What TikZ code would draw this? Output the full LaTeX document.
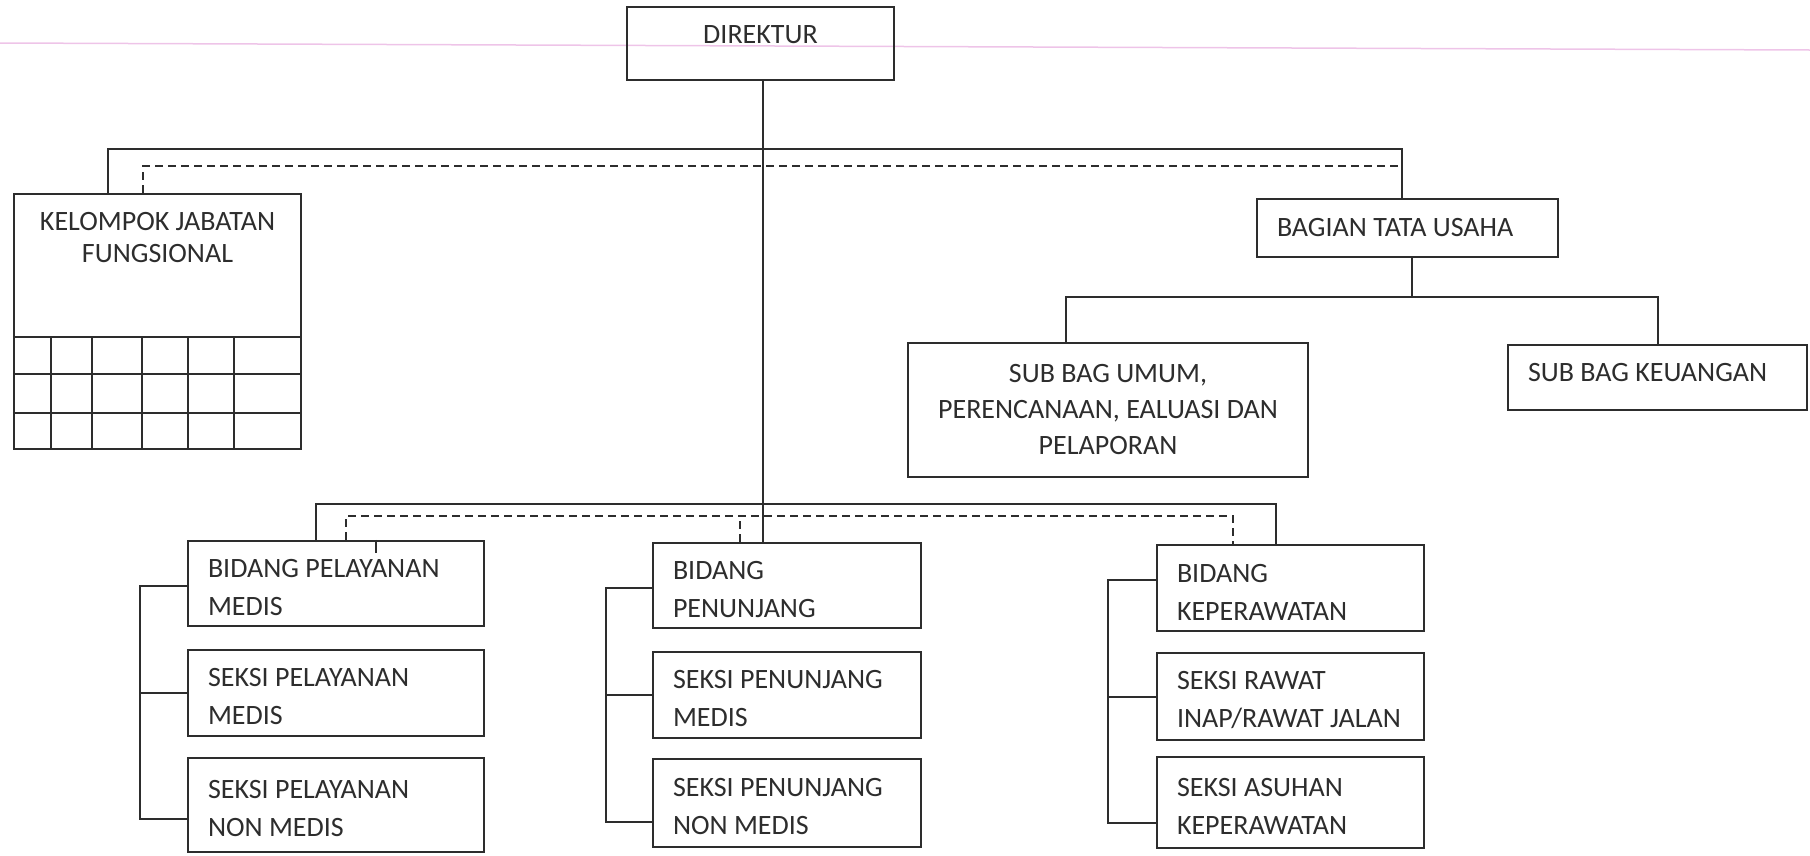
\documentclass[tikz,border=0pt]{standalone}
\usepackage{fontspec}
\setmainfont{Carlito}
\definecolor{ink}{RGB}{45,45,45}
\definecolor{margin}{RGB}{238,196,232}
\newcommand\unitfont{\fontsize{28}{38}\selectfont}
\begin{document}
\begin{tikzpicture}[
  x=1pt, y=-1pt,
  every node/.style={font=\unitfont, text=ink, inner sep=0pt,
    execute at begin node={\spaceskip=0.226em\relax}},
  unit/.style={draw=ink, line width=2.5pt, rectangle, inner xsep=20pt, align=left, text width=#1},
  sect/.style={unit=#1, execute at begin node={\spaceskip=0.226em\relax\rule{0pt}{26pt}}},
  link/.style={draw=ink, line width=2pt},
  staff/.style={link, dash pattern=on 8pt off 5pt}
]
\useasboundingbox (0,0) rectangle (1810,855);
\draw[margin, line width=1.5pt] (0,43) -- (1810,50);

\node[unit=227pt, align=center, minimum height=73pt, text height=18pt, text depth=19pt] (dir) at (760.5,43.5) {DIREKTUR};

\node[draw=ink, line width=2.5pt, minimum width=287pt, minimum height=255pt] (kjf) at (157.5,321.5) {};
\node[align=center, anchor=north, font=\fontsize{28}{32}\selectfont] (kjfname) at ([yshift=-19pt]kjf.north) {KELOMPOK JABATAN\\FUNGSIONAL};
\foreach \y in {337,374,413}
  \draw[link] (kjf.west |- 0,\y) -- (kjf.east |- 0,\y);
\foreach \x in {51,92,142,188,234}
  \draw[link] (\x,337) -- (kjf.south -| \x,0);

\node[unit=261pt, minimum height=58pt] (btu) at (1407.5,228) {BAGIAN TATA USAHA};
\node[unit=360pt, align=center, minimum height=134pt, font=\fontsize{28}{36}\selectfont] (sbu) at (1108,410) {SUB BAG UMUM,\\PERENCANAAN, EALUASI DAN\\PELAPORAN};
\node[unit=259pt, minimum height=65pt, text depth=10pt] (sbk) at (1657.5,377.5) {SUB BAG KEUANGAN};

\node[sect=256pt, minimum height=85pt] (bpm) at (336,583.5) {BIDANG PELAYANAN\\MEDIS};
\node[sect=256pt, minimum height=86pt] (spm) at (336,693) {SEKSI PELAYANAN\\MEDIS};
\node[sect=256pt, minimum height=94pt] (spnm) at (336,805) {SEKSI PELAYANAN\\NON MEDIS};
\node[sect=228pt, minimum height=85pt] (bpn) at (787,585.5) {BIDANG\\PENUNJANG};
\node[sect=228pt, minimum height=86pt] (spjm) at (787,695) {SEKSI PENUNJANG\\MEDIS};
\node[sect=228pt, minimum height=88pt] (spjnm) at (787,803) {SEKSI PENUNJANG\\NON MEDIS};
\node[sect=227pt, minimum height=86pt] (bkp) at (1290.5,588) {BIDANG\\KEPERAWATAN};
\node[sect=227pt, minimum height=87pt] (srw) at (1290.5,696.5) {SEKSI RAWAT\\INAP/RAWAT JALAN};
\node[sect=227pt, minimum height=91pt] (sak) at (1290.5,802.5) {SEKSI ASUHAN\\KEPERAWATAN};

\coordinate (upbus) at (0,149);
\coordinate (updash) at (0,166);
\coordinate (lowbus) at (0,504);
\coordinate (lowdash) at (0,516);
\coordinate (tubus) at (0,297);
\coordinate (btutop) at ([xshift=-6pt]btu.north);
\coordinate (btubot) at ([xshift=4pt]btu.south);
\coordinate (bkptop) at ([xshift=120pt]bkp.north west);
\coordinate (bkpdash) at ([xshift=77pt]bkp.north west);
\coordinate (bpndash) at ([xshift=88pt]bpn.north west);

\draw[link] ([xshift=2.5pt]dir.south) -- ([xshift=2.5pt]dir.south |- bpn.north);
\draw[link] ([xshift=95pt]kjf.north west) |- (upbus -| btutop) -- (btutop);
\draw[staff] ([xshift=130pt]kjf.north west) |- (updash -| btutop);

\draw[link] (btubot) -- (btubot |- tubus);
\draw[link] ([xshift=159pt]sbu.north west) |- (tubus -| sbk.north) -- (sbk.north);

\draw[link] ([xshift=129pt]bpm.north west) |- (lowbus -| bkptop) -- (bkptop);
\draw[staff] ([xshift=159pt]bpm.north west) |- (lowdash -| bkpdash) -- (bkpdash);
\draw[staff] (bpndash) -- (bpndash |- lowdash);
\draw[link] ([xshift=189pt]bpm.north west) -- ++(0,13);

\draw[link] ([yshift=-2pt]bpm.west) -- ++(-47,0) |- ([yshift=-14pt]spnm.west);
\draw[link] (spm.west) -- ++(-47,0);
\draw[link] ([yshift=-2.5pt]bpn.west) -- ++(-46,0) |- ([yshift=-19pt]spjnm.west);
\draw[link] (spjm.west) -- ++(-46,0);
\draw[link] ([yshift=8pt]bkp.west) -- ++(-48,0) |- ([yshift=-20pt]sak.west);
\draw[link] (srw.west) -- ++(-48,0);
\end{tikzpicture}
\end{document}
